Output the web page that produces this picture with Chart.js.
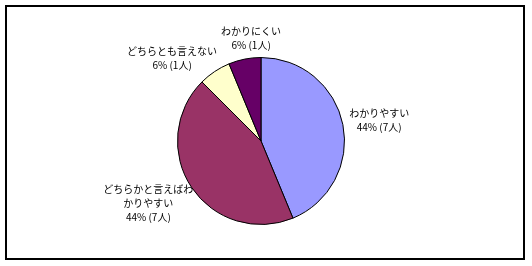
<!DOCTYPE html>
<html>
<head>
<meta charset="utf-8">
<script src="https://cdn.jsdelivr.net/npm/chart.js@4"></script>
<style>
  html, body { margin: 0; padding: 0; background: #fff; }
  #wrap { position: relative; width: 532px; height: 266px; }
  #frame { position: absolute; left: 5px; top: 5px; width: 520px; height: 255px;
           border: 2px solid #000; box-sizing: border-box; }
  #result_chart { position: absolute; left: 0; top: 0; }
</style>
</head>
<body>
<div id="wrap">
  <div id="frame"></div>
  <canvas id="result_chart" width="532" height="266"></canvas>
</div>
<script>
// chart data
const labels = ["わかりやすい", "どちらかと言えばわかりやすい", "どちらかと言えばわかりにくい", "どちらとも言えない", "わかりにくい"];
const values = [7, 7, 0, 1, 1];
const colors = ["#9999FF", "#993366", "#FFFFFF", "#FFFFCC", "#660066"];

const FONT = '10px "Noto Sans CJK JP", sans-serif';
const LINE_H = 14;
const MAX_W = 95;

// split a label into lines that fit MAX_W
const wrap_text = (ctx, text) => {
    let lines = [];
    let cur = "";
    for (const ch of text) {
        if (ctx.measureText(cur + ch).width > MAX_W && cur) {
            lines.push(cur);
            cur = ch;
        } else {
            cur += ch;
        }
    }
    if (cur) lines.push(cur);
    return lines;
};

const outside_labels = {
    id: 'outsideLabels',
    afterDatasetsDraw(chart) {
        const ctx = chart.ctx;
        const meta = chart.getDatasetMeta(0);
        const total = values.reduce((a, b) => a + b, 0);
        ctx.save();
        ctx.font = FONT;
        ctx.fillStyle = '#000';
        ctx.textAlign = 'center';
        ctx.textBaseline = 'middle';

        // build label boxes
        let boxes = [];
        meta.data.forEach((arc, i) => {
            if (!values[i]) return;
            const p = arc.getProps(['x', 'y', 'startAngle', 'endAngle', 'outerRadius'], true);
            const mid = (p.startAngle + p.endAngle) / 2;
            const cos = Math.cos(mid), sin = Math.sin(mid);
            const pct = Math.round(values[i] / total * 100);
            const lines = wrap_text(ctx, labels[i]);
            lines.push(pct + '% (' + values[i] + '人)');
            const w = Math.max(...lines.map(l => ctx.measureText(l).width));
            const h = lines.length * LINE_H;
            const r = p.outerRadius + 7;
            boxes.push({
                lines, w, h,
                cx: p.x + r * cos + cos * w / 2,
                cy: p.y + r * sin + sin * h / 2
            });
        });

        // push overlapping labels apart sideways
        for (let a = 0; a < boxes.length; a++) {
            for (let b = a + 1; b < boxes.length; b++) {
                const A = boxes[a], B = boxes[b];
                const ox = (A.w + B.w) / 2 - Math.abs(A.cx - B.cx);
                const oy = (A.h + B.h) / 2 - Math.abs(A.cy - B.cy);
                if (ox > 0 && oy > 0) {
                    const s = ox / 2 + 2;
                    const [L, R] = A.cx < B.cx ? [A, B] : [B, A];
                    L.cx -= s;
                    R.cx += s;
                    L.cy += 4;
                }
            }
        }

        boxes.forEach(bx => {
            bx.lines.forEach((l, k) => {
                ctx.fillText(l, bx.cx, bx.cy - bx.h / 2 + LINE_H * (k + 0.5));
            });
        });
        ctx.restore();
    }
};

let Data = {
    labels: labels,
    datasets: [{
        data: values,
        backgroundColor: colors,
        borderColor: '#000',
        borderWidth: 1
    }]
};

let config = {
    type: 'pie',
    data: Data,
    options: {
        responsive: false,
        animation: false,
        layout: { padding: { left: 177, right: 187, top: 57, bottom: 41 } },
        plugins: {
            legend: { display: false },
            tooltip: { enabled: false }
        }
    },
    plugins: [outside_labels]
};

new Chart(document.getElementById("result_chart"), config);
</script>
</body>
</html>
